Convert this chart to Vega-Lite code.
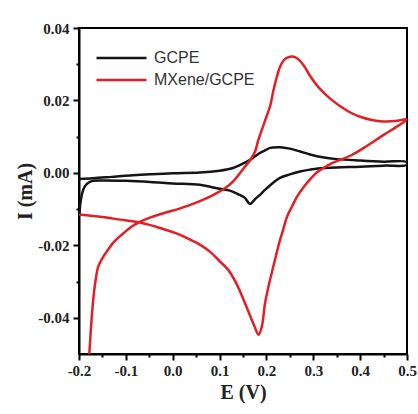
{
  "$schema": "https://vega.github.io/schema/vega-lite/v6.json",
  "width": 328,
  "height": 326,
  "autosize": {"type": "none"},
  "padding": {"left": 79, "top": 28, "right": 11, "bottom": 60},
  "background": "white",
  "data": {"values": [
    {"s":"GCPE","k":1,"E":-0.2,"I":-0.0017},
    {"s":"GCPE","k":2,"E":-0.17,"I":-0.0015},
    {"s":"GCPE","k":3,"E":-0.13,"I":-0.0011},
    {"s":"GCPE","k":4,"E":-0.1,"I":-0.0008},
    {"s":"GCPE","k":5,"E":-0.048,"I":-0.0004},
    {"s":"GCPE","k":6,"E":0.0,"I":-0.0001},
    {"s":"GCPE","k":7,"E":0.058,"I":0.0001},
    {"s":"GCPE","k":8,"E":0.1,"I":0.0006},
    {"s":"GCPE","k":9,"E":0.125,"I":0.0012},
    {"s":"GCPE","k":10,"E":0.144,"I":0.0022},
    {"s":"GCPE","k":11,"E":0.165,"I":0.0036},
    {"s":"GCPE","k":12,"E":0.186,"I":0.0055},
    {"s":"GCPE","k":13,"E":0.2,"I":0.0064},
    {"s":"GCPE","k":14,"E":0.208,"I":0.0069},
    {"s":"GCPE","k":15,"E":0.229,"I":0.0071},
    {"s":"GCPE","k":16,"E":0.25,"I":0.0067},
    {"s":"GCPE","k":17,"E":0.272,"I":0.0059},
    {"s":"GCPE","k":18,"E":0.293,"I":0.0051},
    {"s":"GCPE","k":19,"E":0.32,"I":0.0043},
    {"s":"GCPE","k":20,"E":0.35,"I":0.0038},
    {"s":"GCPE","k":21,"E":0.4,"I":0.0034},
    {"s":"GCPE","k":22,"E":0.45,"I":0.0031},
    {"s":"GCPE","k":23,"E":0.5,"I":0.003},
    {"s":"GCPE","k":24,"E":0.5,"I":0.0022},
    {"s":"GCPE","k":25,"E":0.45,"I":0.002},
    {"s":"GCPE","k":26,"E":0.4,"I":0.0017},
    {"s":"GCPE","k":27,"E":0.35,"I":0.0015},
    {"s":"GCPE","k":28,"E":0.31,"I":0.0012},
    {"s":"GCPE","k":29,"E":0.293,"I":0.0009},
    {"s":"GCPE","k":30,"E":0.272,"I":0.0004},
    {"s":"GCPE","k":31,"E":0.25,"I":-0.0004},
    {"s":"GCPE","k":32,"E":0.229,"I":-0.0014},
    {"s":"GCPE","k":33,"E":0.21,"I":-0.0032},
    {"s":"GCPE","k":34,"E":0.197,"I":-0.0047},
    {"s":"GCPE","k":35,"E":0.185,"I":-0.0062},
    {"s":"GCPE","k":36,"E":0.176,"I":-0.0072},
    {"s":"GCPE","k":37,"E":0.165,"I":-0.0086},
    {"s":"GCPE","k":38,"E":0.154,"I":-0.0069},
    {"s":"GCPE","k":39,"E":0.14,"I":-0.0059},
    {"s":"GCPE","k":40,"E":0.122,"I":-0.0049},
    {"s":"GCPE","k":41,"E":0.1,"I":-0.0044},
    {"s":"GCPE","k":42,"E":0.058,"I":-0.0033},
    {"s":"GCPE","k":43,"E":0.0,"I":-0.0029},
    {"s":"GCPE","k":44,"E":-0.048,"I":-0.0025},
    {"s":"GCPE","k":45,"E":-0.1,"I":-0.0022},
    {"s":"GCPE","k":46,"E":-0.15,"I":-0.0021},
    {"s":"GCPE","k":47,"E":-0.17,"I":-0.0022},
    {"s":"GCPE","k":48,"E":-0.18,"I":-0.0027},
    {"s":"GCPE","k":49,"E":-0.188,"I":-0.0038},
    {"s":"GCPE","k":50,"E":-0.193,"I":-0.0055},
    {"s":"GCPE","k":51,"E":-0.196,"I":-0.0075},
    {"s":"GCPE","k":52,"E":-0.198,"I":-0.0095},
    {"s":"GCPE","k":53,"E":-0.199,"I":-0.0114},
    {"s":"MXene/GCPE","k":1,"E":-0.178,"I":-0.05},
    {"s":"MXene/GCPE","k":2,"E":-0.174,"I":-0.042},
    {"s":"MXene/GCPE","k":3,"E":-0.17,"I":-0.0355},
    {"s":"MXene/GCPE","k":4,"E":-0.165,"I":-0.03},
    {"s":"MXene/GCPE","k":5,"E":-0.159,"I":-0.0259},
    {"s":"MXene/GCPE","k":6,"E":-0.15,"I":-0.0235},
    {"s":"MXene/GCPE","k":7,"E":-0.138,"I":-0.0212},
    {"s":"MXene/GCPE","k":8,"E":-0.125,"I":-0.019},
    {"s":"MXene/GCPE","k":9,"E":-0.11,"I":-0.0172},
    {"s":"MXene/GCPE","k":10,"E":-0.085,"I":-0.0146},
    {"s":"MXene/GCPE","k":11,"E":-0.07,"I":-0.0135},
    {"s":"MXene/GCPE","k":12,"E":-0.05,"I":-0.0124},
    {"s":"MXene/GCPE","k":13,"E":-0.027,"I":-0.0114},
    {"s":"MXene/GCPE","k":14,"E":0.016,"I":-0.0098},
    {"s":"MXene/GCPE","k":15,"E":0.058,"I":-0.0078},
    {"s":"MXene/GCPE","k":16,"E":0.085,"I":-0.0062},
    {"s":"MXene/GCPE","k":17,"E":0.112,"I":-0.0042},
    {"s":"MXene/GCPE","k":18,"E":0.13,"I":-0.0022},
    {"s":"MXene/GCPE","k":19,"E":0.145,"I":0.0002},
    {"s":"MXene/GCPE","k":20,"E":0.154,"I":0.0017},
    {"s":"MXene/GCPE","k":21,"E":0.165,"I":0.0035},
    {"s":"MXene/GCPE","k":22,"E":0.176,"I":0.006},
    {"s":"MXene/GCPE","k":23,"E":0.182,"I":0.0088},
    {"s":"MXene/GCPE","k":24,"E":0.19,"I":0.0118},
    {"s":"MXene/GCPE","k":25,"E":0.2,"I":0.0155},
    {"s":"MXene/GCPE","k":26,"E":0.208,"I":0.0185},
    {"s":"MXene/GCPE","k":27,"E":0.215,"I":0.0228},
    {"s":"MXene/GCPE","k":28,"E":0.222,"I":0.0264},
    {"s":"MXene/GCPE","k":29,"E":0.229,"I":0.0293},
    {"s":"MXene/GCPE","k":30,"E":0.237,"I":0.0311},
    {"s":"MXene/GCPE","k":31,"E":0.246,"I":0.0319},
    {"s":"MXene/GCPE","k":32,"E":0.256,"I":0.0321},
    {"s":"MXene/GCPE","k":33,"E":0.266,"I":0.0316},
    {"s":"MXene/GCPE","k":34,"E":0.28,"I":0.0296},
    {"s":"MXene/GCPE","k":35,"E":0.293,"I":0.0268},
    {"s":"MXene/GCPE","k":36,"E":0.31,"I":0.0238},
    {"s":"MXene/GCPE","k":37,"E":0.336,"I":0.0205},
    {"s":"MXene/GCPE","k":38,"E":0.36,"I":0.0182},
    {"s":"MXene/GCPE","k":39,"E":0.38,"I":0.0166},
    {"s":"MXene/GCPE","k":40,"E":0.4,"I":0.0155},
    {"s":"MXene/GCPE","k":41,"E":0.425,"I":0.0146},
    {"s":"MXene/GCPE","k":42,"E":0.45,"I":0.0142},
    {"s":"MXene/GCPE","k":43,"E":0.475,"I":0.0143},
    {"s":"MXene/GCPE","k":44,"E":0.5,"I":0.0148},
    {"s":"MXene/GCPE","k":45,"E":0.475,"I":0.0125},
    {"s":"MXene/GCPE","k":46,"E":0.45,"I":0.0105},
    {"s":"MXene/GCPE","k":47,"E":0.415,"I":0.0075},
    {"s":"MXene/GCPE","k":48,"E":0.38,"I":0.0048},
    {"s":"MXene/GCPE","k":49,"E":0.342,"I":0.0028},
    {"s":"MXene/GCPE","k":50,"E":0.32,"I":0.0012},
    {"s":"MXene/GCPE","k":51,"E":0.308,"I":0.0002},
    {"s":"MXene/GCPE","k":52,"E":0.295,"I":-0.0015},
    {"s":"MXene/GCPE","k":53,"E":0.28,"I":-0.0038},
    {"s":"MXene/GCPE","k":54,"E":0.265,"I":-0.0066},
    {"s":"MXene/GCPE","k":55,"E":0.255,"I":-0.0092},
    {"s":"MXene/GCPE","k":56,"E":0.244,"I":-0.0121},
    {"s":"MXene/GCPE","k":57,"E":0.235,"I":-0.016},
    {"s":"MXene/GCPE","k":58,"E":0.229,"I":-0.0185},
    {"s":"MXene/GCPE","k":59,"E":0.222,"I":-0.022},
    {"s":"MXene/GCPE","k":60,"E":0.214,"I":-0.0262},
    {"s":"MXene/GCPE","k":61,"E":0.205,"I":-0.031},
    {"s":"MXene/GCPE","k":62,"E":0.197,"I":-0.036},
    {"s":"MXene/GCPE","k":63,"E":0.19,"I":-0.0425},
    {"s":"MXene/GCPE","k":64,"E":0.183,"I":-0.0447},
    {"s":"MXene/GCPE","k":65,"E":0.175,"I":-0.0425},
    {"s":"MXene/GCPE","k":66,"E":0.16,"I":-0.0378},
    {"s":"MXene/GCPE","k":67,"E":0.144,"I":-0.0328},
    {"s":"MXene/GCPE","k":68,"E":0.133,"I":-0.0298},
    {"s":"MXene/GCPE","k":69,"E":0.118,"I":-0.0267},
    {"s":"MXene/GCPE","k":70,"E":0.101,"I":-0.0245},
    {"s":"MXene/GCPE","k":71,"E":0.08,"I":-0.0218},
    {"s":"MXene/GCPE","k":72,"E":0.058,"I":-0.0198},
    {"s":"MXene/GCPE","k":73,"E":0.035,"I":-0.0183},
    {"s":"MXene/GCPE","k":74,"E":0.016,"I":-0.0171},
    {"s":"MXene/GCPE","k":75,"E":-0.027,"I":-0.0152},
    {"s":"MXene/GCPE","k":76,"E":-0.07,"I":-0.0137},
    {"s":"MXene/GCPE","k":77,"E":-0.112,"I":-0.0129},
    {"s":"MXene/GCPE","k":78,"E":-0.15,"I":-0.0122},
    {"s":"MXene/GCPE","k":79,"E":-0.2,"I":-0.0115}
  ]},
  "layer": [
    {
      "mark": {"type": "line", "strokeWidth": 2.5, "clip": true, "strokeJoin": "round", "interpolate": "catmull-rom"},
      "encoding": {
        "x": {"field": "E", "type": "quantitative",
          "scale": {"domain": [-0.2, 0.5], "nice": false, "zero": false},
          "axis": {"values": [-0.2, -0.1, 0, 0.1, 0.2, 0.3, 0.4, 0.5],
            "labelExpr": "datum.value < -0.0001 ? '-' + format(-datum.value, '.1f') : format(datum.value, '.1f')",
            "title": "E (V)", "grid": false, "orient": "bottom",
            "labelFont": "Liberation Serif", "labelFontWeight": "bold", "labelFontSize": 15, "labelColor": "#222",
            "labelPadding": 3, "labelOverlap": false, "labelBound": false, "labelFlush": false,
            "tickSize": 6, "tickWidth": 2, "tickColor": "black",
            "domainColor": "black", "domainWidth": 2,
            "titleFont": "Liberation Serif", "titleFontWeight": "bold", "titleFontSize": 20, "titleColor": "#222", "titlePadding": 4}},
        "y": {"field": "I", "type": "quantitative",
          "scale": {"domain": [-0.05, 0.04], "nice": false, "zero": false},
          "axis": {"values": [-0.04, -0.02, 0, 0.02, 0.04],
            "labelExpr": "datum.value < -0.0001 ? '-' + format(-datum.value, '.2f') : format(datum.value, '.2f')",
            "title": "I (mA)", "grid": false, "orient": "left",
            "labelFont": "Liberation Serif", "labelFontWeight": "bold", "labelFontSize": 15, "labelColor": "#222",
            "labelPadding": 4, "labelOverlap": false, "labelBound": false, "labelFlush": false,
            "tickSize": 6, "tickWidth": 2, "tickColor": "black",
            "domainColor": "black", "domainWidth": 2,
            "titleFont": "Liberation Serif", "titleFontWeight": "bold", "titleFontSize": 20, "titleColor": "#222", "titlePadding": 2}},
        "order": {"field": "k", "type": "quantitative"},
        "color": {"field": "s", "type": "nominal",
          "scale": {"domain": ["GCPE", "MXene/GCPE"], "range": ["#141414", "#e31e24"]},
          "legend": {"title": null, "orient": "none", "legendX": 16, "legendY": 22,
            "symbolType": "stroke", "symbolSize": 2500, "symbolStrokeWidth": 2.5,
            "labelFont": "Liberation Sans", "labelFontSize": 16, "labelColor": "#333",
            "labelOffset": 6, "clipHeight": 16, "rowPadding": 6}}
      }
    },
    {
      "mark": {"type": "line", "opacity": 0},
      "encoding": {
        "x": {"field": "E", "type": "quantitative",
          "axis": {"values": [-0.15, -0.05, 0.05, 0.15, 0.25, 0.35, 0.45], "labels": false, "domain": false,
            "grid": false, "title": null, "orient": "bottom", "tickSize": 3, "tickWidth": 2, "tickColor": "black"}},
        "y": {"field": "I", "type": "quantitative",
          "axis": {"values": [-0.03, -0.01, 0.01, 0.03], "labels": false, "domain": false,
            "grid": false, "title": null, "orient": "left", "tickSize": 3, "tickWidth": 2, "tickColor": "black"}},
        "detail": {"field": "s", "type": "nominal"},
        "order": {"field": "k", "type": "quantitative"}
      }
    }
  ],
  "resolve": {"axis": {"x": "independent", "y": "independent"}},
  "config": {"view": {"stroke": "black", "strokeWidth": 2}}
}
